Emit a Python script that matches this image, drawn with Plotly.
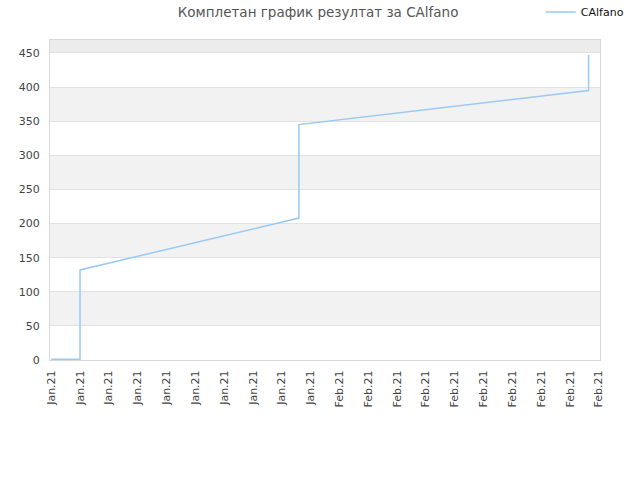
import plotly.graph_objects as go

# Data
dates = ["2021-01-12 00:00", "2021-01-14 00:00", "2021-01-14 00:00", "2021-01-29 04:30",
         "2021-01-29 04:30", "2021-02-18 07:00", "2021-02-18 07:00"]
scores = [1, 1, 132, 208, 345, 395, 447]
series_name = "CAlfano"
title_text = "Комплетан график резултат за CAlfano"

fig = go.Figure()
fig.add_trace(go.Scatter(
    x=dates, y=scores, mode="lines", name=series_name,
    line=dict(color="#99c9f5", width=1.5),
    showlegend=True,
))

# alternating horizontal bands
bands = [(50, 100), (150, 200), (250, 300), (350, 400)]
for lo, hi in bands:
    fig.add_shape(type="rect", xref="paper", yref="y", x0=0, x1=1, y0=lo, y1=hi,
                  fillcolor="#f2f2f2", line=dict(width=0), layer="below")
fig.add_shape(type="rect", xref="paper", yref="y", x0=0, x1=1, y0=450, y1=469,
              fillcolor="#ececec", line=dict(width=0), layer="below")

fig.update_layout(
    width=640, height=480,
    margin=dict(l=50, r=40, t=40, b=120, autoexpand=False),
    paper_bgcolor="white", plot_bgcolor="white",
    font=dict(family="DejaVu Sans", size=11, color="#444"),
    title=dict(text=title_text, x=0.497, xanchor="center", y=0.975, yanchor="middle",
               font=dict(family="DejaVu Sans", size=13.5, color="#555")),
    legend=dict(xref="container", yref="container", x=0.845, y=0.975,
                xanchor="left", yanchor="middle",
                font=dict(size=11, color="#111"), bgcolor="rgba(0,0,0,0)"),
    showlegend=True,
)
fig.update_xaxes(
    type="date", range=["2021-01-11 22:00", "2021-02-19 02:00"],
    tick0="2021-01-12", dtick=2 * 86400000, tickformat="%b.%y",
    tickangle=-90, showgrid=False, showline=True, linecolor="#d8d8d8",
    mirror=True, ticks="", tickfont=dict(size=11, color="#444"),
    automargin=False, ticklabelstandoff=5,
)
fig.update_yaxes(
    range=[0, 469], tickvals=[0, 50, 100, 150, 200, 250, 300, 350, 400, 450],
    showgrid=True, gridcolor="#e2e2e2", gridwidth=1, showline=True,
    linecolor="#d8d8d8", mirror=True, zeroline=False, ticks="",
    tickfont=dict(size=11, color="#444"), automargin=False, ticklabelstandoff=7,
)

fig.write_html("out.html", config={"displayModeBar": False},
               post_script="document.body.style.margin='0';")
